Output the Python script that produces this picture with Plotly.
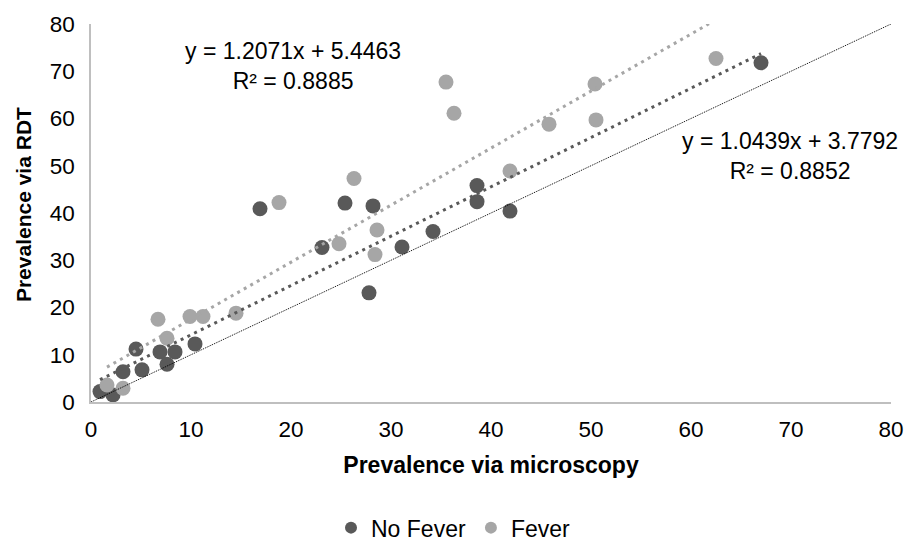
import plotly.graph_objects as go

# No Fever (dark) series
nofever_x = [0.9, 2.2, 3.2, 4.5, 5.1, 6.9, 7.6, 8.4, 10.4, 16.9, 23.1, 25.4, 27.8, 28.2, 31.1, 34.2, 38.6, 38.6, 41.9, 67.0]
nofever_y = [2.2, 1.5, 6.4, 11.2, 6.8, 10.6, 8.0, 10.6, 12.3, 40.9, 32.7, 42.1, 23.1, 41.5, 32.8, 36.1, 45.8, 42.4, 40.4, 71.8]

# Fever (light) series
fever_x = [1.6, 3.2, 6.7, 7.6, 9.9, 11.2, 14.5, 18.8, 24.8, 26.3, 28.4, 28.6, 35.5, 36.3, 41.9, 45.8, 50.4, 50.5, 62.5]
fever_y = [3.6, 2.9, 17.5, 13.5, 18.1, 18.1, 18.8, 42.2, 33.5, 47.3, 31.2, 36.4, 67.7, 61.1, 48.9, 58.8, 67.3, 59.7, 72.7]

# Trendline equations as labelled on the chart
fever_slope, fever_icpt, fever_r2 = 1.2071, 5.4463, 0.8885
nofever_slope, nofever_icpt, nofever_r2 = 1.0439, 3.7792, 0.8852

axis_max = 80
ticks = [0, 10, 20, 30, 40, 50, 60, 70, 80]

DARK = "#595959"
LIGHT = "#A6A6A6"
FONT = "Liberation Sans, Arial, sans-serif"

fig = go.Figure()

fig.add_trace(go.Scatter(x=nofever_x, y=nofever_y, mode="markers", name="No Fever",
                         marker=dict(color=DARK, size=15, line=dict(width=0))))
fig.add_trace(go.Scatter(x=fever_x, y=fever_y, mode="markers", name="Fever",
                         marker=dict(color=LIGHT, size=15, line=dict(width=0))))

# identity line y = x
fig.add_trace(go.Scatter(x=[0, axis_max], y=[0, axis_max], mode="lines",
                         line=dict(color="black", width=1, dash="1px,1px"),
                         showlegend=False, hoverinfo="skip"))

# trendlines (from the labelled equations, over each series' x-range)
fx = [min(fever_x), max(fever_x)]
fig.add_trace(go.Scatter(x=fx, y=[fever_slope * v + fever_icpt for v in fx], mode="lines",
                         line=dict(color=LIGHT, width=3, dash="3px,4.5px"),
                         showlegend=False, hoverinfo="skip"))
nx = [min(nofever_x), max(nofever_x)]
fig.add_trace(go.Scatter(x=nx, y=[nofever_slope * v + nofever_icpt for v in nx], mode="lines",
                         line=dict(color=DARK, width=3, dash="3px,4.5px"),
                         showlegend=False, hoverinfo="skip"))

fig.add_annotation(x=20.2, y=71.1, xref="x", yref="y", showarrow=False,
                   text=f"y = {fever_slope}x + {fever_icpt}<br>R² = {fever_r2}",
                   font=dict(family=FONT, size=23, color="black"), align="center")
fig.add_annotation(x=69.9, y=52.0, xref="x", yref="y", showarrow=False,
                   text=f"y = {nofever_slope}x + {nofever_icpt}<br>R² = {nofever_r2}",
                   font=dict(family=FONT, size=23, color="black"), align="center")

# y-axis title
fig.add_annotation(x=-0.085, y=0.521, xref="paper", yref="paper", showarrow=False,
                   text="<b>Prevalence via RDT</b>", textangle=-90,
                   font=dict(family=FONT, size=21, color="black"),
                   xanchor="center", yanchor="middle")

fig.update_layout(
    width=907, height=544,
    margin=dict(l=91, r=16, t=24, b=142),
    paper_bgcolor="white", plot_bgcolor="white",
    font=dict(family=FONT, size=22.5, color="black"),
    xaxis=dict(range=[0, axis_max], tickvals=ticks, showgrid=False, zeroline=False,
               showline=True, linecolor="#BFBFBF", linewidth=1.5, ticks="",
               automargin=False, ticklabelstandoff=6,
               title=dict(text="<b>Prevalence via microscopy</b>", font=dict(size=23), standoff=16)),
    yaxis=dict(range=[0, axis_max], tickvals=ticks, showgrid=False, zeroline=False,
               showline=True, linecolor="#BFBFBF", linewidth=1.5, ticks="",
               automargin=False, ticklabelstandoff=10),
    legend=dict(orientation="h", xref="container", yref="container", x=0.5, y=0.03,
                xanchor="center", yanchor="middle", itemsizing="constant",
                font=dict(size=23), itemwidth=30, tracegroupgap=0),
    showlegend=True,
)

fig.write_html("out.html")
